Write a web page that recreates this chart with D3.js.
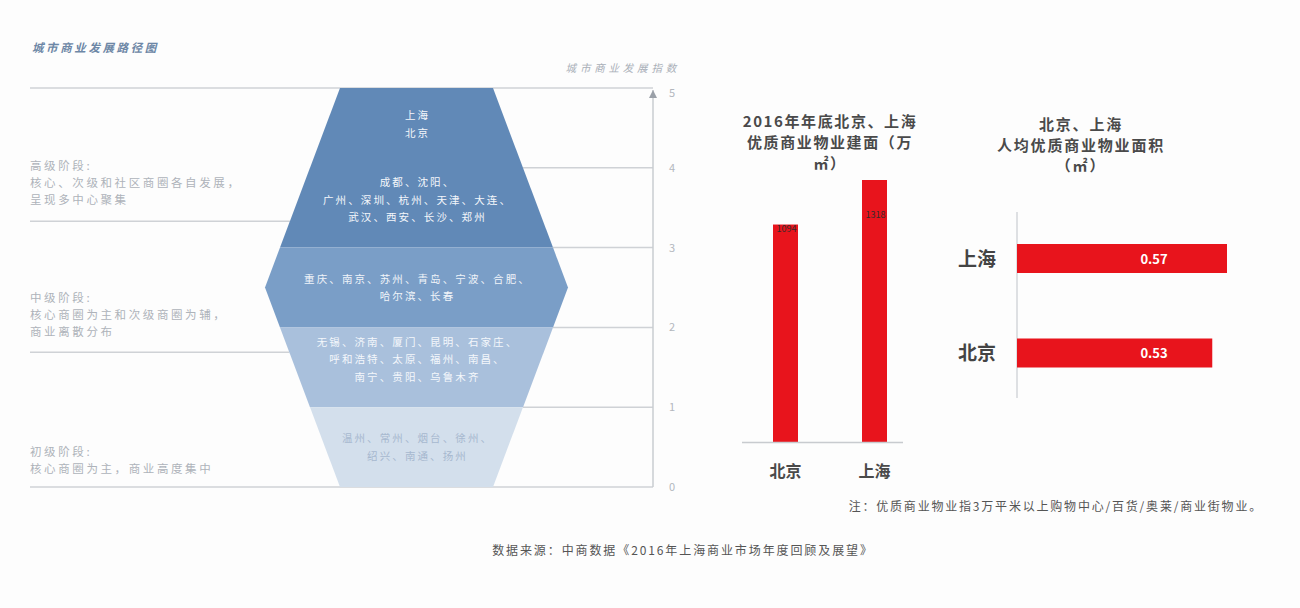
<!DOCTYPE html>
<html><head><meta charset="utf-8">
<script src="https://cdn.jsdelivr.net/npm/d3@7"></script>
<style>
body{margin:0;background:#fdfdfd;font-family:"Noto Sans CJK SC","Noto Sans",sans-serif;}
svg{display:block;}
</style></head>
<body><svg id="c" width="1300" height="608"></svg>
<script>
// ---- data ----
const indexTicks = [0, 1, 2, 3, 4, 5];
const stageBounds = [0, 1.69, 3.33, 5];
const stageLabels = [
  ["初级阶段:", "核心商圈为主，商业高度集中"],
  ["中级阶段:", "核心商圈为主和次级商圈为辅，", "商业离散分布"],
  ["高级阶段:", "核心、次级和社区商圈各自发展，", "呈现多中心聚集"]
];
const bandRanges = [[3, 5], [2, 3], [1, 2], [0, 1]];
const cityGroups = [
  {v: 4.55, lines: ["上海", "北京"]},
  {v: 3.6, lines: ["成都、沈阳、", "广州、深圳、杭州、天津、大连、", "武汉、西安、长沙、郑州"]},
  {v: 2.5, lines: ["重庆、南京、苏州、青岛、宁波、合肥、", "哈尔滨、长春"]},
  {v: 1.6, lines: ["无锡、济南、厦门、昆明、石家庄、", "呼和浩特、太原、福州、南昌、", "南宁、贵阳、乌鲁木齐"]},
  {v: 0.5, lines: ["温州、常州、烟台、徐州、", "绍兴、南通、扬州"]}
];
const cities = ["北京", "上海"];
const totalArea = [1094, 1318];
const perCapitaCities = ["上海", "北京"];
const perCapita = [0.57, 0.53];

// ---- styles ----
const bandColors = ["#6189b7", "#7a9ec7", "#a9c0dc", "#d3dfec"];
const cityTextColors = ["#f4f7fb", "#f4f7fb", "#f0f4f9", "#f4f7fb", "#a7b8cf"];
const red = "#e8141c";

const svg = d3.select("#c");

// ---- left: development path ----
const y = d3.scaleLinear().domain([0, 5]).range([487, 88]);
const cx = 416.5;
const hw = d3.scaleLinear().domain([0, 2.5]).range([76.5, 151.5]);
const halfW = v => hw(2.5 - Math.abs(v - 2.5));
const axisX = 653;

svg.append("text").attr("x", 32).attr("y", 52)
  .attr("font-size", 11.5).attr("font-style", "italic").attr("font-weight", "bold")
  .attr("letter-spacing", 2.6).attr("fill", "#6d87a6").text("城市商业发展路径图");

svg.append("text").attr("x", 680).attr("y", 72).attr("text-anchor", "end")
  .attr("font-size", 10.5).attr("font-style", "italic").attr("letter-spacing", 3.8)
  .attr("fill", "#a9afb8").text("城市商业发展指数");

// right-side grid lines (from funnel edge to axis)
svg.append("g").selectAll("line").data(indexTicks).join("line")
  .attr("x1", d => (d === 0 || d === 5) ? 30 : cx + halfW(d))
  .attr("x2", axisX).attr("y1", d => y(d)).attr("y2", d => y(d))
  .attr("stroke", "#cfd2d6").attr("stroke-width", 1.5);
// left-side stage separators
svg.append("g").selectAll("line").data(stageBounds.slice(1, 3)).join("line")
  .attr("x1", 30).attr("x2", d => cx - halfW(d)).attr("y1", d => y(d)).attr("y2", d => y(d))
  .attr("stroke", "#cfd2d6").attr("stroke-width", 1.5);

// funnel bands
function bandPoly(a, b) {
  const vs = [a];
  if (a < 2.5 && b > 2.5) vs.push(2.5);
  vs.push(b);
  const right = vs.map(v => [cx + halfW(v), y(v)]);
  const left = vs.slice().reverse().map(v => [cx - halfW(v), y(v)]);
  return right.concat(left);
}
svg.append("g").selectAll("path").data(bandRanges).join("path")
  .attr("d", d => "M" + bandPoly(d[0], d[1]).join("L") + "Z")
  .attr("fill", (d, i) => bandColors[i]);

// city texts
cityGroups.forEach((g, gi) => {
  const n = g.lines.length, lh = 17.5;
  const y0 = y(g.v) - (n - 1) * lh / 2 + 4;
  g.lines.forEach((t, i) => {
    svg.append("text").attr("x", cx + 1).attr("y", y0 + i * lh).attr("text-anchor", "middle")
      .attr("font-size", 10.5).attr("letter-spacing", 2.1)
      .attr("fill", cityTextColors[gi]).text(t);
  });
});

// stage labels
const stageLabelBase = [456, 302, 170];
stageLabels.forEach((lines, si) => {
  lines.forEach((t, i) => {
    svg.append("text").attr("x", 30).attr("y", stageLabelBase[si] + i * 17)
      .attr("font-size", 11.5).attr("letter-spacing", 2.6).attr("fill", "#aeb3ba").text(t);
  });
});

// index axis
svg.append("line").attr("x1", axisX).attr("x2", axisX).attr("y1", y(0)).attr("y2", y(5) + 2)
  .attr("stroke", "#c9ccd0").attr("stroke-width", 1.5);
svg.append("path").attr("d", `M${axisX - 4},${y(5) + 10}L${axisX},${y(5) + 2}L${axisX + 4},${y(5) + 10}Z`)
  .attr("fill", "#9aa0a8");
svg.append("g").selectAll("text").data(indexTicks).join("text")
  .attr("x", 672).attr("y", d => y(d) + (d === 5 ? 9 : 4)).attr("text-anchor", "middle")
  .attr("font-size", 11).attr("fill", "#b3b7bd").text(d => d);

// ---- middle: total area bar chart ----
const title1 = ["2016年年底北京、上海", "优质商业物业建面（万", "㎡）"];
svg.append("g").selectAll("text").data(title1).join("text")
  .attr("x", 830).attr("y", (d, i) => 127 + i * 21).attr("text-anchor", "middle")
  .attr("font-size", 15).attr("font-weight", "bold").attr("letter-spacing", 1.6)
  .attr("fill", "#4a4a4a").text(d => d);

const xb = d3.scalePoint().domain(cities).range([785.5, 874.5]);
const barW = 25;
const yb = d3.scaleLinear().domain([0, 1318]).range([442, 180]);
svg.append("g").selectAll("rect").data(cities).join("rect")
  .attr("x", d => xb(d) - barW / 2).attr("width", barW)
  .attr("y", (d, i) => yb(totalArea[i])).attr("height", (d, i) => yb(0) - yb(totalArea[i]))
  .attr("fill", red);
const labelOffsets = [7, 38];
svg.append("g").selectAll("text").data(cities).join("text")
  .attr("x", d => xb(d) + 1)
  .attr("y", (d, i) => yb(totalArea[i]) + labelOffsets[i])
  .attr("text-anchor", "middle").attr("font-size", 9).attr("fill", "#3a2a2a")
  .text((d, i) => totalArea[i]);
svg.append("line").attr("x1", 742).attr("x2", 903).attr("y1", 442.5).attr("y2", 442.5)
  .attr("stroke", "#c8cbcf").attr("stroke-width", 1.5);
svg.append("g").selectAll("text").data(cities).join("text")
  .attr("x", d => xb(d)).attr("y", 477).attr("text-anchor", "middle")
  .attr("font-size", 16).attr("font-weight", "bold").attr("fill", "#4a4a4a").text(d => d);

// ---- right: per-capita horizontal bars ----
const title2 = ["北京、上海", "人均优质商业物业面积", "（㎡）"];
svg.append("g").selectAll("text").data(title2).join("text")
  .attr("x", 1081).attr("y", (d, i) => 130 + i * 20.5).attr("text-anchor", "middle")
  .attr("font-size", 15).attr("font-weight", "bold").attr("letter-spacing", 1.8)
  .attr("fill", "#4a4a4a").text(d => d);

const xh = d3.scaleLinear().domain([0, 0.57]).range([1017, 1227]);
const yh = d3.scalePoint().domain(perCapitaCities).range([258.5, 353]);
const barH = 29;
svg.append("line").attr("x1", 1017).attr("x2", 1017).attr("y1", 212).attr("y2", 398)
  .attr("stroke", "#d3d6da").attr("stroke-width", 1.5);
svg.append("g").selectAll("rect").data(perCapitaCities).join("rect")
  .attr("x", xh(0)).attr("y", d => yh(d) - barH / 2).attr("height", barH)
  .attr("width", (d, i) => xh(perCapita[i]) - xh(0)).attr("fill", red);
svg.append("g").selectAll("text.v").data(perCapitaCities).join("text")
  .attr("x", 1154).attr("y", d => yh(d) + 5).attr("text-anchor", "middle")
  .attr("font-size", 13).attr("font-weight", "bold").attr("fill", "#ffffff")
  .text((d, i) => perCapita[i].toFixed(2));
svg.append("g").selectAll("text.c").data(perCapitaCities).join("text")
  .attr("x", 977).attr("y", d => yh(d) + 7).attr("text-anchor", "middle")
  .attr("font-size", 19).attr("font-weight", "bold").attr("fill", "#444").text(d => d);

// ---- notes ----
svg.append("text").attr("x", 1263).attr("y", 511).attr("text-anchor", "end")
  .attr("font-size", 12).attr("letter-spacing", 1.8).attr("fill", "#555")
  .text("注：优质商业物业指3万平米以上购物中心/百货/奥莱/商业街物业。");
svg.append("text").attr("x", 683).attr("y", 555).attr("text-anchor", "middle")
  .attr("font-size", 12).attr("letter-spacing", 1.9).attr("fill", "#555")
  .text("数据来源：中商数据《2016年上海商业市场年度回顾及展望》");
</script></body></html>
